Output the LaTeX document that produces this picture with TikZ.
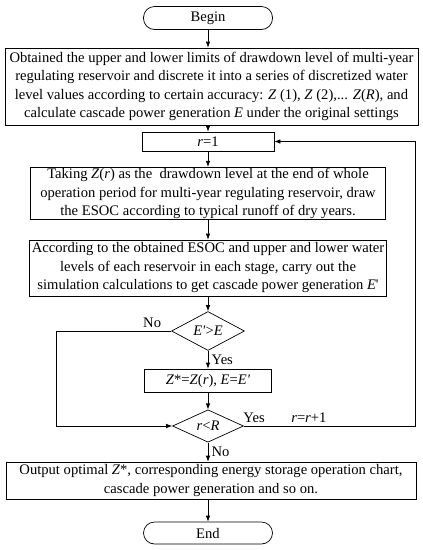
\documentclass[tikz,border=0pt]{standalone}
\usepackage{fontspec}
\setmainfont{Liberation Serif}
\usetikzlibrary{arrows.meta,shapes.geometric,positioning}

\tikzset{
    block/.style={draw, rectangle, align=center, inner xsep=2pt, inner ysep=1pt},
    term/.style={draw, rectangle, rounded corners=11pt, minimum width=129pt, minimum height=23pt},
    decide/.style={draw, diamond, inner sep=0pt, minimum width=73pt, minimum height=34pt}
}

\begin{document}
\begin{tikzpicture}[x=1pt,y=-1pt,on grid,auto,line width=0.7pt,>={Latex[length=6pt,width=4.5pt]},font=\fontsize{14.6}{18.5}\selectfont]
    \useasboundingbox (0,0) rectangle (423,550);
    \coordinate (nox) at (56,0);
    \coordinate (loopx) at (415,0);

    \node[term] (begin) at (208,18) {Begin};
    \node[block, minimum width=413pt, minimum height=77pt] [below=68.5pt of begin, xshift=3.5pt] (init) {Obtained the upper and lower limits of drawdown level of multi-year\\ regulating reservoir and discrete it into a series of discretized water\\ level values according to certain accuracy: \textit{Z} (1), \textit{Z} (2),... \textit{Z}(\textit{R}), and\\ calculate cascade power generation \textit{E} under the original settings};
    \node[block, minimum width=132pt, minimum height=19pt] [below=55pt of init, xshift=-3.5pt] (r_1) {\textit{r}=1};
    \node[block, minimum width=355pt, minimum height=51pt] [below=52pt of r_1] (take) {Taking \textit{Z}(\textit{r}) as the\ \ drawdown level at the end of whole\\ operation period for multi-year regulating reservoir, draw\\ the ESOC according to typical runoff of dry years.};
    \node[block, minimum width=355pt, minimum height=56pt] [below=74.5pt of take] (sim) {According to the obtained ESOC and upper and lower water\\ levels of each reservoir in each stage, carry out the\\ simulation calculations to get cascade power generation \textit{E}\textquotesingle};
    \node[decide] [below=63pt of sim] (cmp_E) {\textit{E\textquotesingle}>\textit{E}};
    \node[block, minimum width=127pt, minimum height=23pt] [below=49.5pt of cmp_E] (keep) {\textit{Z}*=\textit{Z}(\textit{r}), \textit{E}=\textit{E\textquotesingle}};
    \node[decide, minimum width=71pt, minimum height=32pt] [below=45.5pt of keep] (cmp_r) {\textit{r}<\textit{R}};
    \node[block, minimum width=410pt, minimum height=37pt] [below=54.5pt of cmp_r, xshift=3pt] (out) {Output optimal \textit{Z}*, corresponding energy storage operation chart,\\ cascade power generation and so on.};
    \node[term, minimum height=22pt] [below=52.5pt of out, xshift=-3pt] (end) {End};

    \path[->]
    (begin) edge (begin |- init.north)
    (begin |- init.south) edge (r_1)
    (r_1) edge (take)
    (take) edge (sim)
    (sim) edge (cmp_E)
    (cmp_E) edge node[right] {Yes} (keep)
    (keep) edge (cmp_r)
    (cmp_r) edge node[right] {No} (end |- out.north)
    (end |- out.south) edge (end)
    ;

    \draw[->] (cmp_E.west) -- node[above, pos=0.165] {No} (cmp_E.west -| nox) |- (cmp_r.west);
    \draw[->] (cmp_r.east) -- node[above, pos=0.06] {Yes} node[above, pos=0.38] {\textit{r}=\textit{r}+1} (cmp_r.east -| loopx) |- (r_1.east);
\end{tikzpicture}
\end{document}
